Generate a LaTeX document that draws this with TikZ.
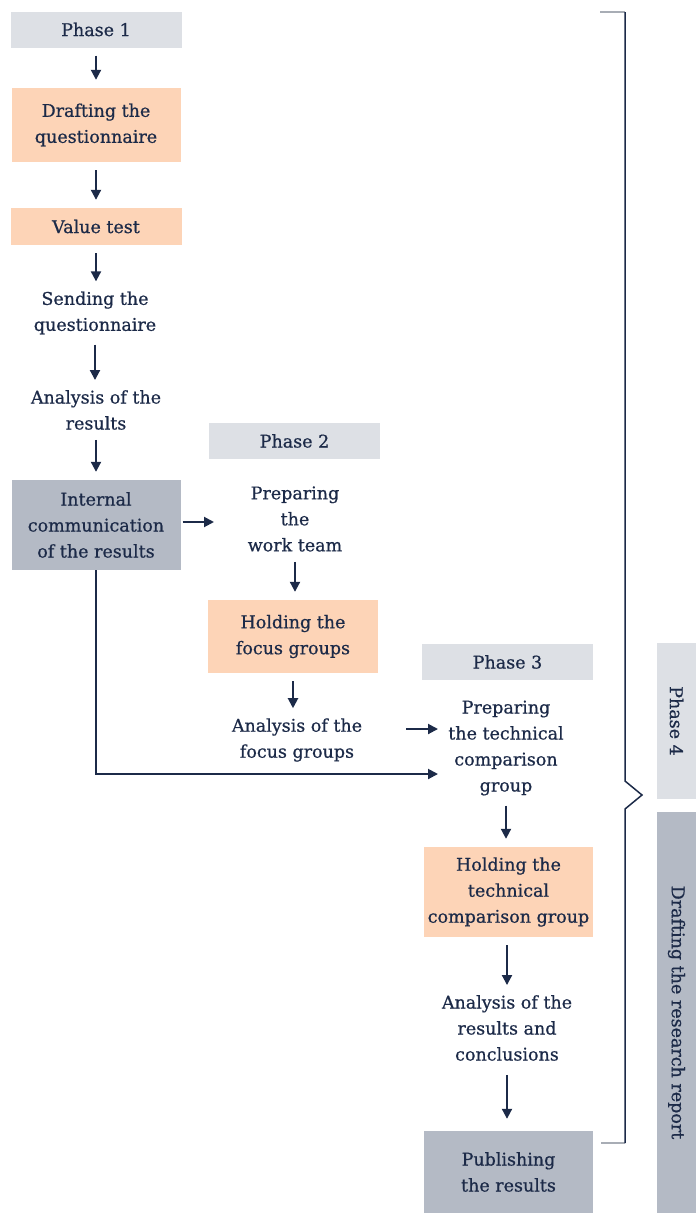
\documentclass[tikz,border=0pt]{standalone}
\usepackage{fontspec}
\setmainfont{DejaVu Serif}[FakeBold=0.7]
\usetikzlibrary{arrows.meta}
\definecolor{navy}{HTML}{1C2A48}
\definecolor{lgray}{HTML}{DDE0E5}
\definecolor{peach}{HTML}{FDD4B7}
\definecolor{dgray}{HTML}{B4BAC5}
\definecolor{stubgray}{HTML}{A8ADB5}
\tikzset{
  txt/.style={text=navy, font=\fontsize{17.5}{26}\selectfont, align=center, inner sep=2pt},
  phasebox/.style={txt, fill=lgray, minimum width=171pt, minimum height=36pt},
  peachbox/.style={txt, fill=peach},
  graybox/.style={txt, fill=dgray},
  arr/.style={draw=navy, line width=2pt, -{Triangle[length=10pt,width=10pt]}, shorten >=8pt, shorten <=8pt},
  arrh/.style={draw=navy, line width=2pt, -{Triangle[length=10pt,width=10pt]}},
}
\begin{document}
\begin{tikzpicture}[x=1pt,y=-1pt]
\useasboundingbox (0,0) rectangle (696,1213);
% column 1
\node[phasebox] (p1) at (96,29.5) {Phase 1};
\node[peachbox, minimum width=169pt, minimum height=74pt] (draft) at (96,125) {Drafting the\\questionnaire};
\node[peachbox, minimum width=171pt, minimum height=37pt] (value) at (96,226.5) {Value test};
\node[txt] (send) at (95,313) {Sending the\\questionnaire};
\node[txt] (anal) at (96,410) {Analysis of the\\results};
\node[graybox, minimum width=169pt, minimum height=90pt] (internal) at (96,525) {Internal\\communication\\of the results};
% column 2
\node[phasebox] (p2) at (294.5,441) {Phase 2};
\node[txt] (prep) at (295,519) {Preparing\\the\\work team};
\node[peachbox, minimum width=170pt, minimum height=73pt] (hold) at (293,636.5) {Holding the\\focus groups};
\node[txt] (anfg) at (297,740) {Analysis of the\\focus groups};
% column 3
\node[phasebox] (p3) at (507.5,662) {Phase 3};
\node[txt] (prept) at (506,748) {Preparing\\the technical\\comparison\\group};
\node[peachbox, minimum width=169pt, minimum height=90pt] (holdt) at (508.5,892) {Holding the\\technical\\comparison group};
\node[txt] (anres) at (507,1028) {Analysis of the\\results and\\conclusions};
\node[graybox, minimum width=169pt, minimum height=82pt] (pub) at (508.5,1172) {Publishing\\the results};
% phase 4
\node[phasebox, minimum width=156pt, minimum height=39pt, rotate=-90] (p4) at (676.5,721) {Phase 4};
\node[graybox, minimum width=401pt, minimum height=39pt, rotate=-90] (report) at (676.5,1012.5) {Drafting the research report};
% vertical arrows
\draw[arr] (p1) -- (draft);
\draw[arr] (draft) -- (value);
\draw[arr] (value.south) -- (value.south |- send.north);
\draw[arr] (send.south) -- (send.south |- anal.north);
\draw[arr] (anal) -- (internal);
\draw[arr] (prep.south) -- (prep.south |- hold.north);
\draw[arr] (hold) -- (hold.south |- anfg.north);
\draw[arr] (prept.south) -- (prept.south |- holdt.north);
\draw[arr] (anres.north |- holdt.south) -- (anres.north);
\draw[arr, shorten <=12pt, shorten >=12pt] (anres.south) -- (anres.south |- pub.north);
% horizontal arrows
\coordinate (prepin) at (214,522);
\draw[arrh] ([xshift=2pt]internal.east |- prepin) -- (prepin);
\coordinate (fgout) at (406,729);
\coordinate (ptin) at (438,729);
\draw[arrh] (fgout) -- (ptin);
\coordinate (ptin2) at (438,774);
\draw[arrh] (internal.south) |- (ptin2);
% bracket
\coordinate (bt) at (625,12);
\coordinate (bb) at (625,1143);
\draw[stubgray, line width=1.8pt] (600,12) -- (bt);
\draw[stubgray, line width=1.8pt] (601,1143) -- (bb);
\draw[navy, line width=1.5pt, line join=miter] (bt) -- (625,781) -- (642,795) -- (625,809) -- (bb);
\end{tikzpicture}
\end{document}
